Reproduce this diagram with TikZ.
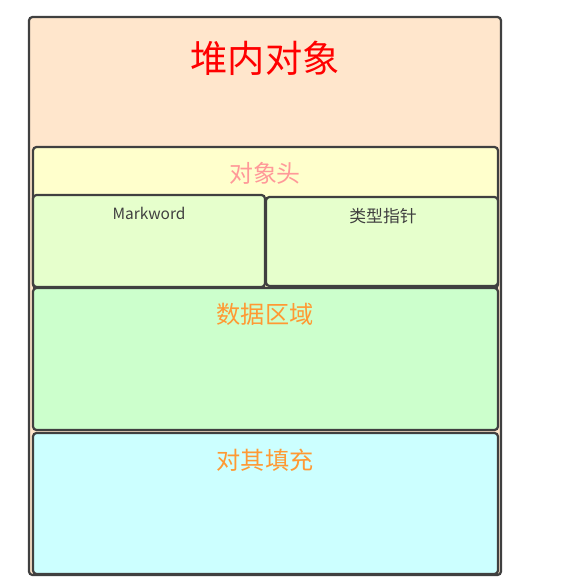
\documentclass[tikz,border=0pt]{standalone}
\usepackage{fontspec}
\newfontfamily\cjk{Noto Sans CJK SC}
\definecolor{edge}{HTML}{404040}
\definecolor{peach}{HTML}{FFE6CC}
\definecolor{pale}{HTML}{FFFFCC}
\definecolor{lime}{HTML}{E6FFCC}
\definecolor{mint}{HTML}{CCFFCC}
\definecolor{aqua}{HTML}{CCFFFF}
\definecolor{rose}{HTML}{FF9999}
\definecolor{amber}{HTML}{FF9933}
\tikzset{box/.style={draw=edge, line width=1.6pt, rounded corners=2.5pt},
	lbl/.style={font=\cjk, inner sep=0pt}}
\begin{document}
\begin{tikzpicture}[x=0.025cm, y=-0.025cm]
\useasboundingbox (0,0) rectangle (581,584);
\draw[box, fill=peach] (29,17) rectangle (501,575);
			\draw[box, fill=pale] (33,147) rectangle (498,288);
			\draw[box, fill=lime] (33,195) rectangle (265,287);
			\draw[box, fill=lime] (266,197) rectangle (498,286);
			\draw[box, fill=mint] (33,288) rectangle (498,430);
			\draw[box, fill=aqua] (33,433) rectangle (498,574);
			\node[lbl, text=red, font=\cjk\fontsize{26.5}{28}\selectfont] (heap) at (265,58) {堆内对象};
			\node[lbl, text=rose, font=\cjk\fontsize{17}{19}\selectfont] (header) at (265,173) {对象头};
			\node[lbl, text=edge, font=\cjk\fontsize{11}{13}\selectfont] (mark) at (149,213) {Markword};
			\node[lbl, text=edge, font=\cjk\fontsize{12}{14}\selectfont] (klass) at (383,216) {类型指针};
			\node[lbl, text=amber, font=\cjk\fontsize{17.2}{19}\selectfont] (data) at (265,314) {数据区域};
			\node[lbl, text=amber, font=\cjk\fontsize{17.2}{19}\selectfont] (pad) at (265,460) {对其填充};
		\end{tikzpicture}
\end{document}
